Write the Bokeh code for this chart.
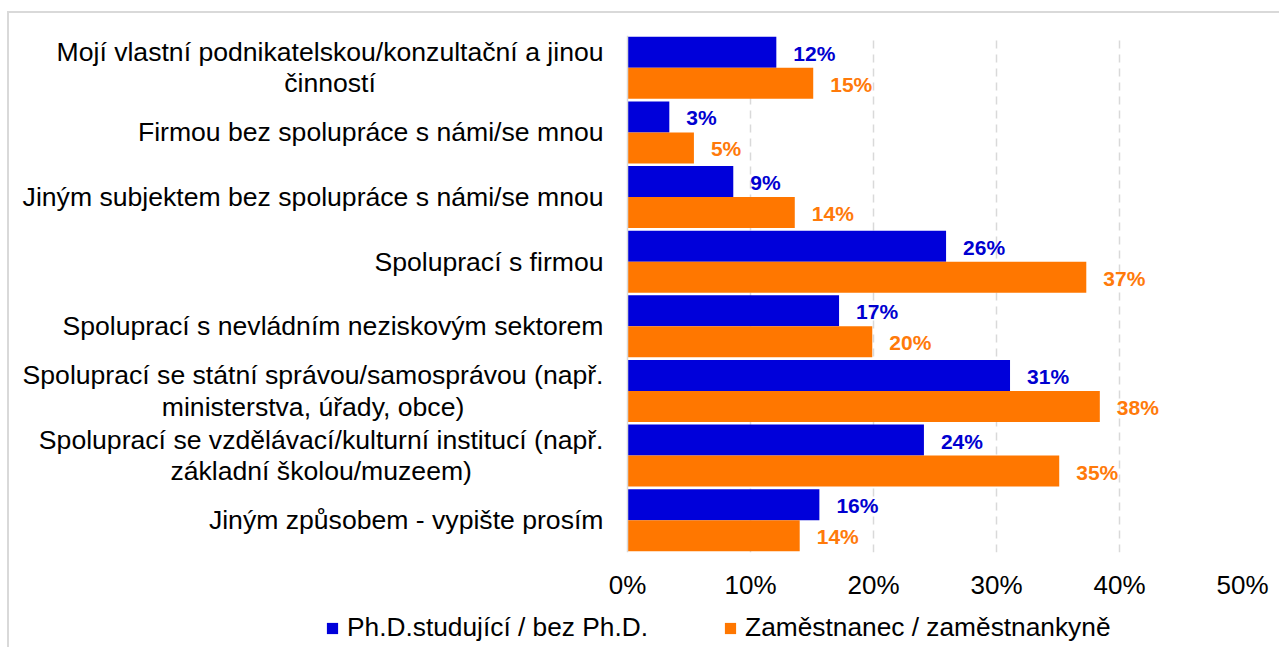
from bokeh.plotting import figure
from bokeh.layouts import column
from bokeh.models import ColumnDataSource, FactorRange, Range1d, FixedTicker, Span, Legend, LegendItem
from bokeh.transform import dodge
from bokeh.core.properties import value
from bokeh.embed import file_html
from bokeh.resources import INLINE

categories = [
    "Mojí vlastní podnikatelskou/konzultační a jinou\nčinností",
    "Firmou bez spolupráce s námi/se mnou",
    "Jiným subjektem bez spolupráce s námi/se mnou",
    "Spoluprací s firmou",
    "Spoluprací s nevládním neziskovým sektorem",
    "Spoluprací se státní správou/samosprávou (např.\nministerstva, úřady, obce)",
    "Spoluprací se vzdělávací/kulturní institucí (např.\nzákladní školou/muzeem)",
    "Jiným způsobem - vypište prosím",
]
series_names = ["Ph.D.studující / bez Ph.D.", "Zaměstnanec / zaměstnankyně"]
phd_values = [12.1, 3.4, 8.6, 25.9, 17.2, 31.1, 24.1, 15.6]
emp_values = [15.1, 5.4, 13.6, 37.3, 19.9, 38.4, 35.1, 14.0]
phd_labels = ["12%", "3%", "9%", "26%", "17%", "31%", "24%", "16%"]
emp_labels = ["15%", "5%", "14%", "37%", "20%", "38%", "35%", "14%"]
tick_values = [0, 10, 20, 30, 40, 50]
tick_labels = ["0%", "10%", "20%", "30%", "40%", "50%"]

BLUE = "#0000DA"
ORANGE = "#FF7700"
FONT = value("Liberation Sans")

src = ColumnDataSource(dict(cat=categories, phd=phd_values, emp=emp_values,
                            phd_lbl=phd_labels, emp_lbl=emp_labels))

p = figure(width=1270, height=589, output_backend="svg", toolbar_location=None,
           y_range=FactorRange(factors=list(reversed(categories))),
           x_range=Range1d(-613 / 12.3, 50), y_axis_location=None,
           min_border_left=5, min_border_right=37, min_border_top=22, min_border_bottom=50)
p.outline_line_color = None
p.background_fill_color = "white"

p.hbar(y=dodge("cat", 0.24, range=p.y_range), left=0, right="phd", height=0.48,
       fill_color=BLUE, line_color=None, source=src)
p.hbar(y=dodge("cat", -0.24, range=p.y_range), left=0, right="emp", height=0.48,
       fill_color=ORANGE, line_color=None, source=src)

p.text(x="phd", y=dodge("cat", 0.24, range=p.y_range), text="phd_lbl", source=src,
       x_offset=17, y_offset=1, text_align="left", text_baseline="middle",
       text_font=FONT, text_font_style="bold", text_font_size="21px", text_color="#0000D0")
p.text(x="emp", y=dodge("cat", -0.24, range=p.y_range), text="emp_lbl", source=src,
       x_offset=17, y_offset=1, text_align="left", text_baseline="middle",
       text_font=FONT, text_font_style="bold", text_font_size="21px", text_color="#FF7A0A")

# category labels
p.text(x=0, y="cat", text="cat", source=src, x_offset=-24, anchor="center_right",
       text_align="center", text_baseline="middle", text_line_height=1.04,
       text_font=FONT, text_font_size="26.6px", text_color="#000000")

p.add_layout(Span(location=0, dimension="height", line_color="#d9d9d9", line_width=1.5))

p.ygrid.visible = False
p.xgrid.ticker = FixedTicker(ticks=tick_values[1:])
p.xgrid.grid_line_color = "#d9d9d9"
p.xgrid.grid_line_width = 1.5
p.xgrid.grid_line_dash = "8 6"

xa = p.xaxis[0]
xa.ticker = FixedTicker(ticks=tick_values)
xa.major_label_overrides = {v: t for v, t in zip(tick_values, tick_labels)}
xa.axis_line_color = None
xa.major_tick_line_color = None
xa.minor_tick_line_color = None
xa.major_label_standoff = 11
xa.major_label_text_font = "Liberation Sans"
xa.major_label_text_font_size = "26px"
xa.major_label_text_color = "#000000"

# legend strip below the chart (swatch renderers sit outside the visible range)
lf = figure(width=1270, height=45, output_backend="svg", toolbar_location=None,
            x_range=Range1d(0, 1), y_range=Range1d(0, 1),
            x_axis_location=None, y_axis_location=None,
            min_border_left=0, min_border_right=0, min_border_top=0, min_border_bottom=0)
lf.outline_line_color = None
lf.xgrid.visible = False
lf.ygrid.visible = False
r_phd = lf.hbar(y=[-5], right=[0.5], left=0, height=0.5, fill_color=BLUE, line_color=None)
r_emp = lf.hbar(y=[-5], right=[0.5], left=0, height=0.5, fill_color=ORANGE, line_color=None)

lg = Legend(items=[LegendItem(label=series_names[0], renderers=[r_phd]),
                   LegendItem(label=series_names[1], renderers=[r_emp])],
            location=(311, 4), orientation="horizontal")
lg.padding = 0
lg.margin = 0
lg.spacing = 75
lg.border_line_color = None
lg.background_fill_alpha = 0
lg.glyph_width = 14
lg.glyph_height = 14
lg.label_standoff = 8
lg.label_height = 26
lg.label_text_font = "Liberation Sans"
lg.label_text_font_size = "26.3px"
lg.label_text_color = "#000000"
lg.label_text_baseline = "middle"
lf.add_layout(lg, "center")

layout = column(p, lf, spacing=0)
layout.styles = {"border-left": "2px solid #d9d9d9", "border-top": "2px solid #d9d9d9",
                 "margin-top": "11px", "margin-left": "7px"}

open("out.html", "w").write(file_html(layout, INLINE))
